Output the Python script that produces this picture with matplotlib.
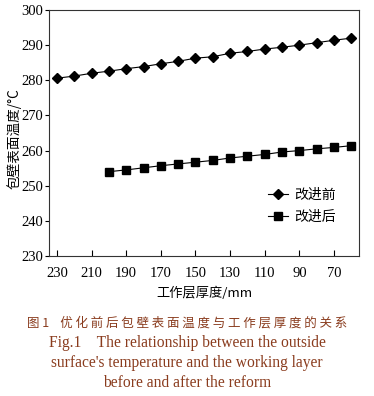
import matplotlib
matplotlib.use('Agg')
import matplotlib.pyplot as plt

plt.rcParams['font.family'] = ['Liberation Serif', 'Noto Sans CJK SC']

# data
thick_before = [230, 220, 210, 200, 190, 180, 170, 160, 150, 140, 130, 120, 110, 100, 90, 80, 70, 60]
temp_before = [280.6, 281.2, 282.0, 282.6, 283.3, 283.9, 284.7, 285.4, 286.3, 286.7,
               287.7, 288.2, 288.9, 289.4, 290.0, 290.7, 291.4, 292.0]
thick_after = [200, 190, 180, 170, 160, 150, 140, 130, 120, 110, 100, 90, 80, 70, 60]
temp_after = [254.0, 254.5, 255.1, 255.7, 256.2, 256.7, 257.2, 257.9, 258.4, 258.9,
              259.6, 260.0, 260.5, 260.9, 261.4]
x_ticks = [230, 210, 190, 170, 150, 130, 110, 90, 70]
y_ticks = [230, 240, 250, 260, 270, 280, 290, 300]

cap_color = '#8a3c1e'
cjk = ['Noto Sans CJK SC', 'Liberation Serif']

fig = plt.figure(figsize=(3.74, 3.96), dpi=100)
ax = fig.add_axes([0.131, 0.3535, 0.829, 0.6212])

ax.plot(thick_before, temp_before, color='black', lw=0.8, marker='D', ms=4.6,
        label='改进前')
ax.plot(thick_after, temp_after, color='black', lw=0.8, marker='s', ms=5.7,
        label='改进后')

ax.set_xlim(234.6, 55.5)
ax.set_ylim(230, 300)
ax.set_xticks(x_ticks)
ax.set_yticks(y_ticks)
ax.tick_params(axis='x', direction='in', length=4, width=0.8, labelsize=10.5, pad=8)
ax.tick_params(axis='y', direction='out', length=3, width=0.8, labelsize=10.5, pad=1)
for sp in ax.spines.values():
    sp.set_linewidth(0.8)
    sp.set_color('#333333')

ax.set_xlabel('工作层厚度/mm', fontsize=9.5, family=cjk, labelpad=5)
ax.set_ylabel('包壁表面温度/°C', fontsize=9.8, family=cjk)
ax.yaxis.set_label_coords(-0.087, 0.476)

ax.legend(loc='center left', bbox_to_anchor=(0.685, 0.203), frameon=False,
          handlelength=1.4, handletextpad=0.45, labelspacing=0.6, borderpad=0,
          prop={'family': 'Noto Sans CJK SC', 'size': 10})

fig.text(0.5, 1 - 323 / 396, '图 1    优 化 前 后 包 壁 表 面 温 度 与 工 作 层 厚 度 的 关 系',
         ha='center', va='center', fontsize=9, color=cap_color, family=cjk)
fig.text(0.5, 1 - 343 / 396, 'Fig.1    The relationship between the outside',
         ha='center', va='center', fontsize=11.2, color=cap_color)
fig.text(0.5, 1 - 363 / 396, "surface's temperature and the working layer",
         ha='center', va='center', fontsize=11.2, color=cap_color)
fig.text(0.5, 1 - 383 / 396, 'before and after the reform',
         ha='center', va='center', fontsize=11.2, color=cap_color)

fig.savefig('out.png', dpi=100)
